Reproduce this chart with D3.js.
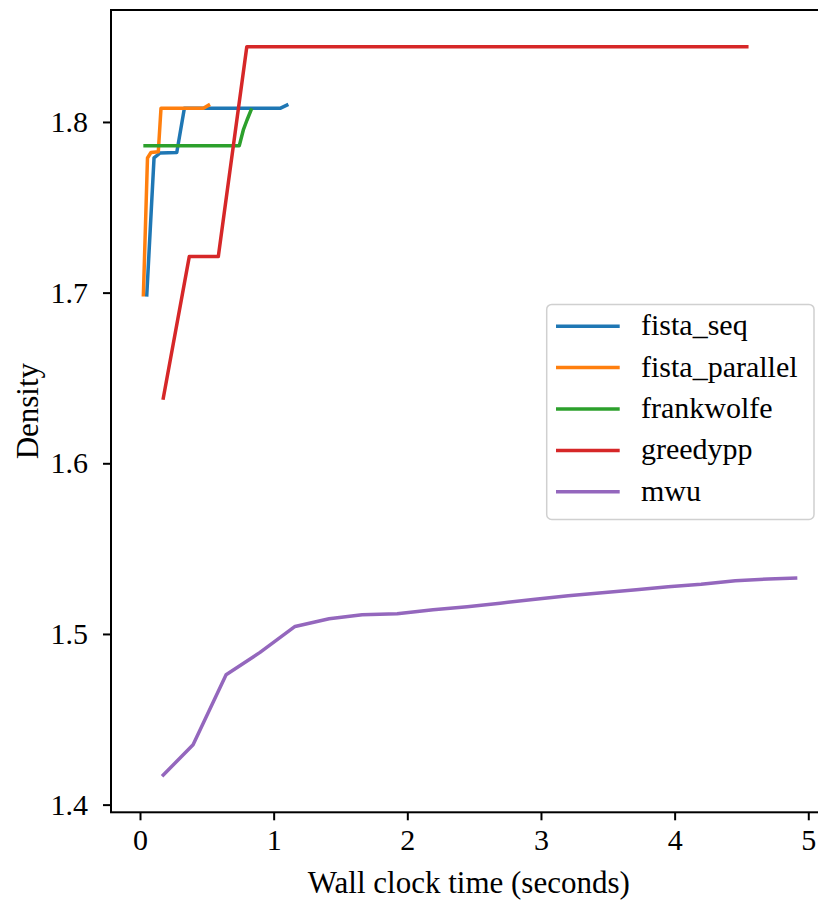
<!DOCTYPE html>
<html>
<head>
<meta charset="utf-8">
<script src="https://cdn.jsdelivr.net/npm/d3@7"></script>
<style>
  body { margin: 0; background: #fff; }
  text { font-family: "Liberation Serif", "DejaVu Serif", serif; fill: #000; }
</style>
</head>
<body>
<div id="chart"></div>
<script>
// Density vs wall clock time, one line per solver
var seriesNames = ["fista_seq", "fista_parallel", "frankwolfe", "greedypp", "mwu"];
var seriesColors = ["#1f77b4", "#ff7f0e", "#2ca02c", "#d62728", "#9467bd"];

var fistaSeqTime = [0.050, 0.105, 0.150, 0.275, 0.332, 1.048, 1.110];
var fistaSeqDensity = [1.6977, 1.7789, 1.7818, 1.7821, 1.8080, 1.8080, 1.8103];

var fistaParTime = [0.025, 0.056, 0.082, 0.137, 0.157, 0.474, 0.524];
var fistaParDensity = [1.6977, 1.7789, 1.7821, 1.7826, 1.8080, 1.8080, 1.8103];

var frankTime = [0.025, 0.743, 0.773, 0.800, 0.836];
var frankDensity = [1.7861, 1.7861, 1.7953, 1.8010, 1.8080];

var greedyTime = [0.172, 0.369, 0.586, 0.799, 4.553];
var greedyDensity = [1.6372, 1.7212, 1.7212, 1.8441, 1.8441];

var mwuTime = [0.165, 0.397, 0.644, 0.898, 1.160, 1.415, 1.662, 1.924, 2.193, 2.448,
               2.695, 2.957, 3.204, 3.458, 3.713, 3.952, 4.198, 4.454, 4.701, 4.918];
var mwuDensity = [1.4166, 1.4351, 1.4761, 1.4892, 1.5044, 1.5089, 1.5113, 1.5119, 1.5142, 1.5160,
                  1.5180, 1.5204, 1.5224, 1.5242, 1.5259, 1.5277, 1.5291, 1.5312, 1.5322, 1.5328];

var xTicks = [0, 1, 2, 3, 4, 5];
var yTicks = [1.4, 1.5, 1.6, 1.7, 1.8];

var allTimes = [fistaSeqTime, fistaParTime, frankTime, greedyTime, mwuTime];
var allDensities = [fistaSeqDensity, fistaParDensity, frankDensity, greedyDensity, mwuDensity];

var width = 818, height = 902;
// plot frame (right edge falls just outside the picture)
var frame = { left: 111, right: 827, top: 10, bottom: 812.3 };

var svg = d3.select("#chart").append("svg")
  .attr("width", width)
  .attr("height", height);

var x = d3.scaleLinear().domain([-0.217, 5.14]).range([frame.left, frame.right]);
var y = d3.scaleLinear().domain([1.3955, 1.8656]).range([frame.bottom, frame.top]);

var line = d3.line()
  .x(function(d) { return x(d[0]); })
  .y(function(d) { return y(d[1]); });

// lines
seriesNames.forEach(function(name, i) {
  var pts = d3.zip(allTimes[i], allDensities[i]);
  svg.append("path")
    .datum(pts)
    .attr("d", line)
    .attr("fill", "none")
    .attr("stroke", seriesColors[i])
    .attr("stroke-width", 3.5)
    .attr("stroke-linejoin", "round");
});

// frame
svg.append("rect")
  .attr("x", frame.left).attr("y", frame.top)
  .attr("width", frame.right - frame.left).attr("height", frame.bottom - frame.top)
  .attr("fill", "none")
  .attr("stroke", "#000")
  .attr("stroke-width", 2);

// axes
var xAxis = d3.axisBottom(x).tickValues(xTicks).tickSize(8).tickPadding(8)
  .tickFormat(d3.format("d"));
var gx = svg.append("g").attr("transform", "translate(0," + frame.bottom + ")").call(xAxis);

var yAxis = d3.axisLeft(y).tickValues(yTicks).tickSize(8).tickPadding(15)
  .tickFormat(d3.format(".1f"));
var gy = svg.append("g").attr("transform", "translate(" + frame.left + ",0)").call(yAxis);

[gx, gy].forEach(function(g) {
  g.attr("font-family", null);
  g.select(".domain").remove();
  g.selectAll(".tick line").attr("stroke", "#000").attr("stroke-width", 2);
  g.selectAll(".tick text")
    .style("font-family", "'Liberation Serif', serif")
    .style("font-size", "30px")
    .attr("fill", "#000");
});

// axis labels
svg.append("text")
  .attr("x", x(2.46))
  .attr("y", 893)
  .attr("text-anchor", "middle")
  .style("font-size", "31px")
  .text("Wall clock time (seconds)");

svg.append("text")
  .attr("transform", "translate(38," + ((frame.top + frame.bottom) / 2) + ") rotate(-90)")
  .attr("text-anchor", "middle")
  .style("font-size", "31px")
  .text("Density");

// legend
var lg = svg.append("g").attr("transform", "translate(546.7,304.4)");
lg.append("rect")
  .attr("width", 267.3).attr("height", 215)
  .attr("rx", 5).attr("ry", 5)
  .attr("fill", "#fff").attr("fill-opacity", 0.8)
  .attr("stroke", "#d0d0d0").attr("stroke-width", 1.5);

seriesNames.forEach(function(name, i) {
  var yy = 21.8 + i * 41.4;
  lg.append("line")
    .attr("x1", 9.3).attr("x2", 73)
    .attr("y1", yy).attr("y2", yy)
    .attr("stroke", seriesColors[i])
    .attr("stroke-width", 3.5);
  lg.append("text")
    .attr("x", 94.3)
    .attr("y", yy + 9)
    .style("font-size", "30px")
    .text(name);
});
</script>
</body>
</html>
